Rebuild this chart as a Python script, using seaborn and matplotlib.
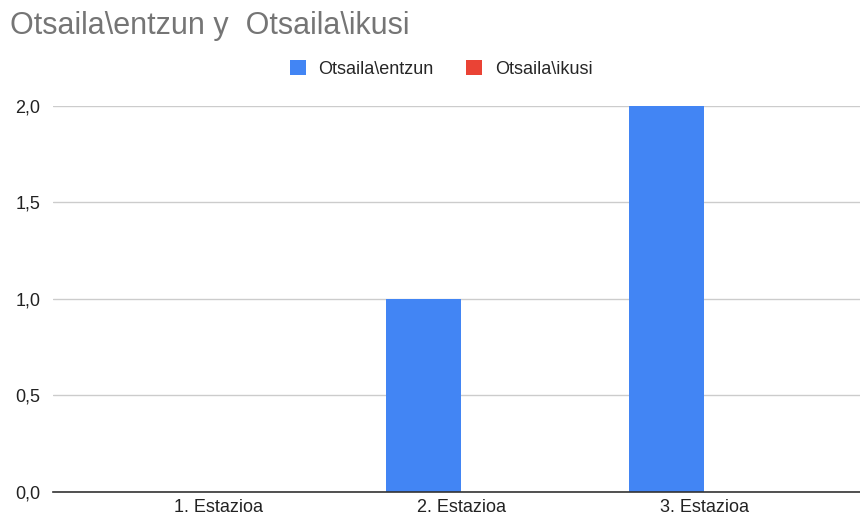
import pandas as pd
import seaborn as sns
import matplotlib.pyplot as plt
from matplotlib.patches import Patch
from matplotlib.ticker import FuncFormatter

categories = ['1. Estazioa', '2. Estazioa', '3. Estazioa']
entzun = [0, 1, 2]
ikusi = [0, 0, 0]
series_names = [r'Otsaila\entzun', r'Otsaila\ikusi']
colors = ['#4285F4', '#EA4335']
title = r'Otsaila\entzun y  Otsaila\ikusi'

df = pd.DataFrame({
    'Estazioa': categories * 2,
    'Balioa': entzun + ikusi,
    'Serie': [series_names[0]] * 3 + [series_names[1]] * 3,
})

sns.set_theme(style='white')
plt.rcParams['font.family'] = ['Liberation Sans', 'DejaVu Sans']

fig = plt.figure(figsize=(8.6, 5.19), dpi=100)
ax = fig.add_axes([0.0616, 0.052, 0.9384, 0.744])

sns.barplot(data=df, x='Estazioa', y='Balioa', hue='Serie', palette=colors,
            width=0.62, linewidth=0, saturation=1, legend=False, ax=ax)

ax.set_xlim(-0.68, 2.64)
ax.set_ylim(0, 2.0)
ax.set_yticks([0, 0.5, 1.0, 1.5, 2.0])
ax.yaxis.set_major_formatter(FuncFormatter(lambda v, p: f'{v:.1f}'.replace('.', ',')))
ax.grid(axis='y', color='#cccccc', linewidth=1)
ax.set_axisbelow(True)
for s in ['left', 'right', 'top']:
    ax.spines[s].set_visible(False)
ax.spines['bottom'].set_color('#333333')
ax.spines['bottom'].set_linewidth(1.2)
ax.tick_params(axis='both', length=0, labelsize=13, colors='#222222')
ax.tick_params(axis='y', pad=9)
ax.tick_params(axis='x', pad=5)
ax.set_xlabel('')
ax.set_ylabel('')

fig.text(0.012, 0.95, title, fontsize=22, color='#757575', ha='left', va='center')

handles = [Patch(facecolor=c, edgecolor='none', label=n) for c, n in zip(colors, series_names)]
fig.legend(handles=handles, loc='center', bbox_to_anchor=(0.513, 0.867), ncol=2,
           frameon=False, fontsize=13, handlelength=0.9, handleheight=0.9,
           columnspacing=1.8, handletextpad=0.7)

fig.savefig('out.png', dpi=100, facecolor='white')
